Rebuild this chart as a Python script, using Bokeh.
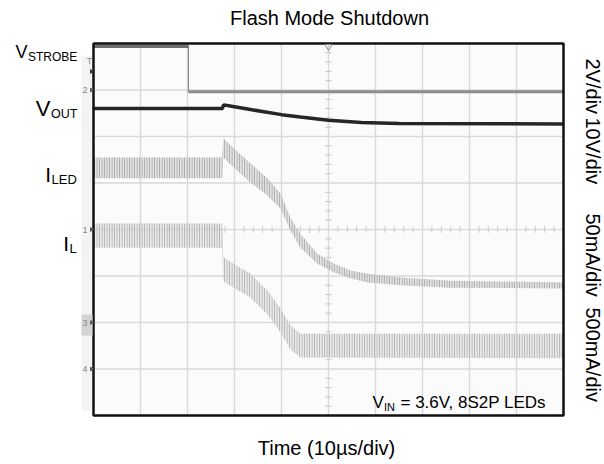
import numpy as np
from bokeh.plotting import figure
from bokeh.models import ColumnDataSource, Label, Range1d
from bokeh.core.properties import value
from bokeh.embed import file_html
from bokeh.resources import INLINE

# ---------------- data (time in µs, amplitude in scope divisions) ----------------
T_MIN, T_MAX = 0.0, 100.0          # 10 divisions x 10 µs/div
DIV_MIN, DIV_MAX = 0.0, 8.0        # 8 vertical divisions
grid_t = [10, 20, 30, 40, 50, 60, 70, 80, 90]
grid_div = [1, 2, 3, 4, 5, 6, 7]

strobe_t = [0.0, 20.2, 20.2, 100.0]
strobe_v = [7.94, 7.94, 6.96, 6.96]

vout_t = [0.0, 27.4, 27.7, 30.0, 34.0, 40.0, 44.0, 50.0, 57.0, 65.0, 100.0]
vout_v = [6.60, 6.60, 6.68, 6.64, 6.57, 6.47, 6.42, 6.35, 6.30, 6.28, 6.27]

iled_t = [0.0, 27.4, 27.6, 29.9, 33.4, 37.0, 39.8, 41.9, 44.0, 47.6, 51.1, 54.7, 58.3, 65.3, 75.9, 100.0]
iled_hi = [5.55, 5.55, 5.96, 5.74, 5.42, 5.10, 4.77, 4.26, 3.91, 3.48, 3.27, 3.12, 3.05, 2.97, 2.90, 2.86]
iled_lo = [5.10, 5.10, 5.55, 5.33, 5.01, 4.73, 4.45, 3.98, 3.61, 3.27, 3.08, 2.95, 2.86, 2.80, 2.75, 2.73]

il_t = [0.0, 27.4, 27.6, 33.4, 37.0, 39.8, 41.9, 44.0, 100.0]
il_hi = [4.13, 4.13, 3.40, 3.05, 2.69, 2.30, 1.94, 1.76, 1.76]
il_lo = [3.61, 3.61, 2.88, 2.54, 2.17, 1.79, 1.42, 1.25, 1.23]

ch_names = ["1", "2", "3", "4"]
ch_ground = [4.0, 7.0, 2.0, 1.0]
scales = ["2V/div", "10V/div", "50mA/div", "500mA/div"]

# ---------------- layout helpers (pixel -> data) ----------------
X0, PXU = 93.0, 4.7     # pixel of t=0, pixels per µs
Y0, PXD = 415.0, 46.5   # pixel of div=0, pixels per division
def fx(px): return (px - X0) / PXU
def fy(py): return (Y0 - py) / PXD

FONT = "Liberation Sans"

p = figure(width=604, height=464,
           x_range=Range1d(fx(0), fx(604)), y_range=Range1d(fy(464), fy(0)),
           output_backend="svg", toolbar_location=None,
           x_axis_location=None, y_axis_location=None, title_location=None,
           min_border=0, outline_line_color=None,
           background_fill_color="white", border_fill_color="white")
p.xgrid.visible = False
p.ygrid.visible = False

# light strip left of the screen (channel marker area)
p.quad(left=fx(81), right=T_MIN, bottom=fy(410), top=fy(55),
       fill_color="#f3f3f3", line_color=None)
# screen background
p.quad(left=T_MIN, right=T_MAX, bottom=DIV_MIN, top=DIV_MAX,
       fill_color="#fbfbfb", line_color=None)

# graticule
p.segment(x0=grid_t, y0=[DIV_MIN] * len(grid_t), x1=grid_t, y1=[DIV_MAX] * len(grid_t),
          line_color="#d9d9d9", line_width=1.4)
p.segment(x0=[T_MIN] * len(grid_div), y0=grid_div, x1=[T_MAX] * len(grid_div), y1=grid_div,
          line_color="#d9d9d9", line_width=1.4)
# minor ticks on centre lines
tick_div = [d / 5 for d in range(1, 40) if d % 5]
tcx = (T_MIN + T_MAX) / 2
p.segment(x0=[tcx - 0.7] * len(tick_div), y0=tick_div, x1=[tcx + 0.7] * len(tick_div), y1=tick_div,
          line_color="#c8c8c8", line_width=1)
tick_t = [2 * k for k in range(1, 50) if k % 5]
dcy = (DIV_MIN + DIV_MAX) / 2
p.segment(x0=tick_t, y0=[dcy - 0.07] * len(tick_t), x1=tick_t, y1=[dcy + 0.07] * len(tick_t),
          line_color="#c8c8c8", line_width=1)

# traces (switching ripple shown as a hatched band between the ripple envelopes)
hatch = dict(hatch_pattern="|", hatch_scale=2.5, hatch_weight=0.9)
p.varea(x=il_t, y1=il_lo, y2=il_hi, fill_color="#dedede", fill_alpha=0.6,
        hatch_color="#aaaaaa", **hatch)
p.varea(x=iled_t, y1=iled_lo, y2=iled_hi, fill_color="#d2d2d2", fill_alpha=0.6,
        hatch_color="#a0a0a0", **hatch)

p.line(strobe_t, strobe_v, line_color="#8a8a8a", line_width=1.2)
p.segment(x0=[strobe_t[0]], y0=[strobe_v[0]], x1=[strobe_t[1]], y1=[strobe_v[1]],
          line_color="#6e6e6e", line_width=3.5)
p.segment(x0=[strobe_t[2]], y0=[strobe_v[2]], x1=[strobe_t[3]], y1=[strobe_v[3]],
          line_color="#8c8c8c", line_width=3)

p.line(vout_t, vout_v, line_color="#262626", line_width=3.5)

# frame
p.quad(left=T_MIN, right=T_MAX, bottom=DIV_MIN, top=DIV_MAX,
       fill_color=None, line_color="#111111", line_width=2.5)

# channel ground markers
p.quad(left=fx(81), right=fx(92), bottom=fy(335), top=fy(314),
       fill_color="#d4d4d4", line_color=None)
p.scatter(x=[fx(91)] * 4, y=ch_ground, marker="triangle", angle=-np.pi / 2,
          size=5, fill_color="#555555", line_color=None)
p.text(x=[fx(87)] * 4, y=ch_ground, text=ch_names, text_font=value(FONT),
       text_font_size="9px", text_color="#888888", text_align="right",
       text_baseline="middle")
p.text(x=[fx(89)], y=[fy(60)], text=["T"], text_font=value(FONT),
       text_font_size="9px", text_color="#888888", text_align="center",
       text_baseline="middle")
p.scatter(x=[fx(91)], y=[fy(71)], marker="triangle", angle=-np.pi / 2,
          size=5, fill_color="#333333", line_color=None)
p.scatter(x=[tcx], y=[fy(46)], marker="inverted_triangle", size=7,
          fill_color=None, line_color="#888888", line_width=1)

def lab(x, y, text, size, align="left", angle=0.0):
    p.add_layout(Label(x=x, y=y, text=text, text_font=FONT, text_font_size=size,
                       text_color="#000000", text_align=align,
                       text_baseline="middle", angle=angle))

# title and x label (anchors at visual text centres)
lab(fx(329), fy(17.5), "Flash Mode Shutdown", "20px", align="center")
lab(fx(326), fy(447), "Time (10µs/div)", "20px", align="center")

# trace names
lab(fx(27), fy(51.7), "V", "18px", align="right")
lab(fx(27.5), fy(56), "STROBE", "12px")
lab(fx(50), fy(108.4), "V", "22px", align="right")
lab(fx(50.5), fy(113.8), "OUT", "12.5px")
lab(fx(50.5), fy(174.2), "I", "21px", align="right")
lab(fx(51), fy(179.3), "LED", "13px")
lab(fx(68.5), fy(242.5), "I", "21px", align="right")
lab(fx(69), fy(248.3), "L", "13px")

# vertical scale labels
for txt, py in zip(scales, [58, 117, 213, 307]):
    lab(fx(592), fy(py), txt, "20px", align="left", angle=-np.pi / 2)

# test condition
lab(fx(372), fy(402.3), "V", "17px")
lab(fx(383.5), fy(406), "IN", "11px")
lab(fx(400), fy(402.3), "= 3.6V, 8S2P LEDs", "17px")

open("out.html", "w").write(file_html(p, INLINE))
